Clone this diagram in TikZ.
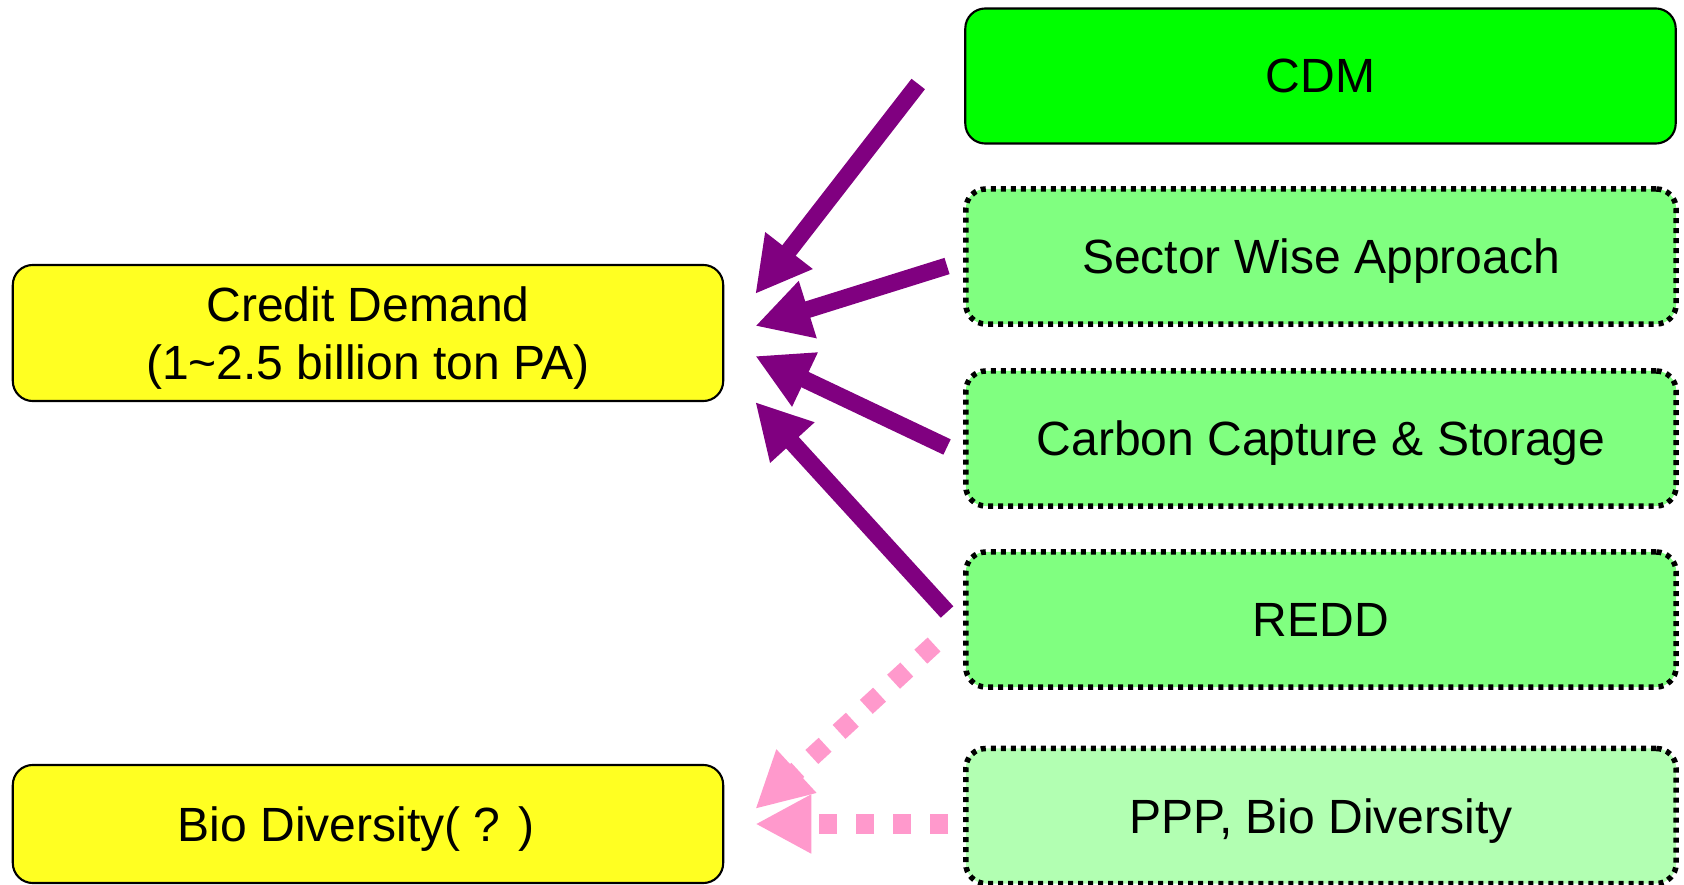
\documentclass[tikz,border=0pt]{standalone}
\usepackage{fontspec}
\setmainfont{Liberation Sans}
\usetikzlibrary{arrows.meta}

\definecolor{cdmgreen}{HTML}{00FF00}
\definecolor{midgreen}{HTML}{80FF80}
\definecolor{palegreen}{HTML}{B2FFB2}
\definecolor{demandyellow}{HTML}{FFFF22}
\definecolor{flowpurple}{HTML}{800080}
\definecolor{weakpink}{HTML}{FF99CC}

\begin{document}
\begin{tikzpicture}[x=0.01cm, y=-0.01cm,
    box/.style={rounded corners=0.2cm, minimum width=7.1cm, minimum height=1.35cm,
        inner sep=0pt, align=center, text depth=0pt,
        font=\fontsize{13.66}{16.5}\selectfont},
    solidbox/.style={box, draw=black, line width=0.6pt},
    dotbox/.style={box, draw=black, line width=0.055cm, dash pattern=on 0.05cm off 0.05cm},
    flow/.style={draw=flowpurple, line width=0.17cm,
        -{Triangle[length=0.55cm, width=0.56cm]}},
    weak/.style={draw=weakpink, line width=0.19cm, dash pattern=on 0.18cm off 0.19cm,
        -{Triangle[length=0.56cm, width=0.55cm]}}]
    \useasboundingbox (0,0) rectangle (1684,885);

    % Mechanisms on the right
    \node[solidbox, fill=cdmgreen] (cdm) at (1320.5,76) {CDM};
    \node[dotbox, fill=midgreen] (swa) at (1321,256.5) {Sector Wise Approach};
    \node[dotbox, fill=midgreen] (ccs) at (1321,438.5) {Carbon Capture \& Storage};
    \node[dotbox, fill=midgreen] (redd) at (1321,619.5) {REDD};
    \node[dotbox, fill=palegreen] (ppp) at (1321,816) {PPP, Bio Diversity};

    % Demand side on the left
    \node[solidbox, fill=demandyellow, minimum height=1.36cm] (demand) at (368,333)
        {Credit Demand\\(1\textasciitilde 2.5 billion ton PA)};
    \node[solidbox, fill=demandyellow, minimum height=1.18cm] (bio) at (368,824)
        {Bio Diversity( ? )\hspace{0.24cm}};

    % Credit flows
    \draw[flow] ([shift={(-46,8)}]cdm.west) -- ([shift={(31,-39)}]demand.east);
    \draw[flow] ([shift={(-16,9.5)}]swa.west) -- ([shift={(31,-7)}]demand.east);
    \draw[flow] ([shift={(-16,8.5)}]ccs.west) -- ([shift={(31,23)}]demand.east);
    \draw[flow] ([shift={(-16,-7.5)}]redd.west) -- ([shift={(31,69)}]demand.east);

    % Bio diversity links
    \draw[weak] ([shift={(-29,25)}]redd.west) -- ([shift={(31,-15)}]bio.east);
    \draw[weak] ([shift={(-15,8)}]ppp.west) -- ([shift={(31,0)}]bio.east);
\end{tikzpicture}
\end{document}
